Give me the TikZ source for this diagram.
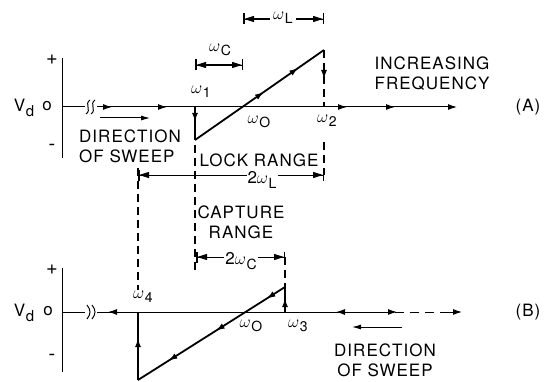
\documentclass[tikz,border=0pt]{standalone}
\usepackage{fontspec}
\setmainfont{TeX Gyre Heros}[LetterSpace=6]
\usetikzlibrary{arrows.meta,decorations.markings,positioning,calc}
\newcommand{\wsub}[1]{$\omega$\kern0.6pt\raisebox{-0.5ex}{\fontsize{14}{14}\selectfont #1}}
\newcommand{\vdlab}{V\kern0.5pt\raisebox{-0.6ex}{\fontsize{15}{15}\selectfont d}}

\begin{document}
\begin{tikzpicture}[x=1pt, y=-1pt,
  txt/.style={font=\fontsize{17}{20}\selectfont, inner sep=1pt, align=center},
  sgn/.style={font=\fontsize{20}{20}\selectfont, inner sep=1pt},
  axisln/.style={line width=1pt},
  trace/.style={line width=1.8pt},
  dashln/.style={line width=1.5pt, dash pattern=on 8pt off 5pt},
  dimbar/.style={line width=0.9pt, {Bar[width=11pt,line width=1.5pt]}-{Bar[width=11pt,line width=1.5pt]}},
  dimarr/.style={line width=1pt, -{Triangle[length=10pt,width=6pt]}, shorten >=1pt},
  tip/.style={postaction={decorate, decoration={markings, mark=at position #1 with {\arrow{Latex[length=9pt,width=6pt]}}}}},
  sweep/.style={line width=1pt, -{Latex[length=9pt,width=5pt]}}
]
\useasboundingbox (0,0) rectangle (553,382);

\coordinate (yA1) at (62,58);
\coordinate (yA2) at (62,158);
\coordinate (a0) at (62,107);
\coordinate (aE) at (457,107);
\coordinate (p1) at (195,107);
\coordinate (p1b) at (195,140);
\coordinate (p2t) at (324,50);
\coordinate (p2) at (324,107);
\coordinate (cL) at (195,65);
\coordinate (cR) at (243,65);
\coordinate (lL) at (243,19);
\coordinate (lR) at (324,19);
\coordinate (rL) at (138,175);
\coordinate (rR) at (324,175);
\coordinate (kL) at (196,257);
\coordinate (kR) at (285,257);
\coordinate (sA1) at (100,118);
\coordinate (sA2) at (150,118);

\coordinate (yB1) at (62,268);
\coordinate (yB2) at (62,372);
\coordinate (b0) at (62,312);
\coordinate (bM) at (380,312);
\coordinate (bT) at (442,312);
\coordinate (bE) at (462,312);
\coordinate (q4) at (138,312);
\coordinate (q4b) at (138,380);
\coordinate (q3) at (285,312);
\coordinate (q3t) at (285,287);
\coordinate (sB1) at (402,327);
\coordinate (sB2) at (352,327);

\draw[axisln] (yA1) -- (yA2);
\draw[axisln, -{Latex[length=9pt,width=6pt]}, tip=50pt, tip=105pt, tip=285pt, tip=333pt] (a0) -- (aE);
\fill[white] (85,99) rectangle (97,115);
\draw[line width=1pt] (86,114) .. controls (92,110) and (84,104) .. (90,100);
\draw[line width=1pt] (91,114) .. controls (97,110) and (89,104) .. (95,100);
\draw[trace, tip=15pt] (p1) -- (p1b);
\draw[trace, tip=84pt, tip=126pt] (p1b) -- (p2t);
\draw[dashln, tip=29pt] (p2t) -- (p2);
\foreach \l/\r in {cL/cR, lL/lR, rL/rR, kL/kR} {
  \draw[dimbar] (\l) -- (\r);
  \draw[dimarr] ($(\l)!0.5!(\r)$) -- (\l);
  \draw[dimarr] ($(\l)!0.5!(\r)$) -- (\r);
}
\draw[dashln] (324,142) -- (rR);
\draw[dashln] (195,145) -- (195,272);
\draw[dashln] (138,168) -- (138,290);
\draw[dashln] (kR) -- (q3t);
\draw[sweep] (sA1) -- (sA2);

\draw[axisln] (yB1) -- (yB2);
\draw[axisln, tip=44pt, tip=272pt] (bM) -- (b0);
\draw[axisln, dash pattern=on 9pt off 6pt, tip=17pt] (bM) -- (bT);
\draw[axisln, -{Latex[length=9pt,width=6pt]}] (bT) -- (bE);
\fill[white] (85,304) rectangle (97,320);
\draw[line width=1pt] (87,319) .. controls (91,314) and (91,310) .. (87,305);
\draw[line width=1pt] (92,319) .. controls (96,314) and (96,310) .. (92,305);
\draw[trace, tip=14pt] (q3) -- (q3t);
\draw[trace, tip=22pt, tip=82pt, tip=138pt] (q3t) -- (q4b);
\draw[trace, tip=42pt] (q4b) -- (q4);
\draw[sweep] (sB1) -- (sB2);

\node[txt] (vdA) at (24,108) {\vdlab};
\node[txt] (oA) at (47,106) {o};
\node[sgn] (plA) at (52,60) {+};
\node[sgn] (mnA) at (52,147) {-};
\node[txt] (w1) at (201,92) {\wsub{1}};
\node[txt] (w0A) at (259,122) {\wsub{O}};
\node[txt] (w2) at (327,121) {\wsub{2}};
\node[txt] (wC) at (220,50) {\wsub{C}};
\node[txt, fill=white, inner xsep=3pt] (wL) at (283,18) {\wsub{L}};
\node[txt] (incr) at (432,74) {INCREASING\\FREQUENCY};
\node[txt] (labA) at (528,107) {(A)};
\node[txt, align=left, anchor=west] (dirA) at (78,146) {DIRECTION\\OF SWEEP};
\node[txt] (lock) at (259,160) {LOCK RANGE};
\node[txt, fill=white] (twoL) at (262,180) {2\wsub{L}};
\node[txt] (capt) at (241,222) {CAPTURE\\RANGE};
\node[txt, fill=white] (twoC) at (241,261) {2\wsub{C}};

\node[txt] (vdB) at (24,313) {\vdlab};
\node[txt] (oB) at (48,311) {o};
\node[sgn] (plB) at (52,270) {+};
\node[sgn] (mnB) at (52,357) {-};
\node[txt] (w4) at (143,297) {\wsub{4}};
\node[txt] (w0B) at (251,326) {\wsub{O}};
\node[txt] (w3) at (298,326) {\wsub{3}};
\node[txt] (dirB) at (385,360) {DIRECTION\\OF SWEEP};
\node[txt] (labB) at (528,312) {(B)};
\end{tikzpicture}
\end{document}
